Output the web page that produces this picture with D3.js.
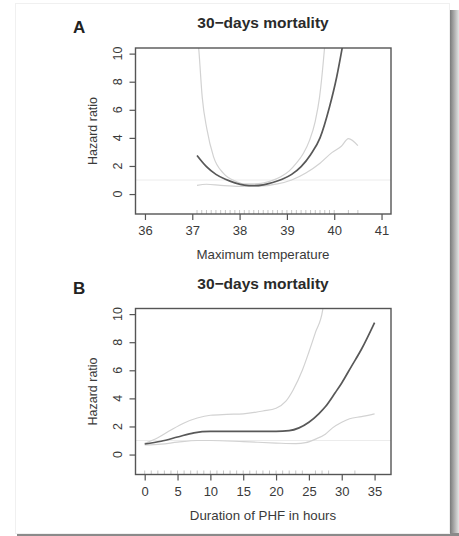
<!DOCTYPE html>
<html>
<head>
<meta charset="utf-8">
<script src="https://cdn.jsdelivr.net/npm/d3@7"></script>
<style>
  body { margin: 0; background: #fff; }
  svg { display: block; font-family: "Liberation Sans", Arial, sans-serif; }
</style>
</head>
<body>
<svg id="chart" width="459" height="536"></svg>
<script>
"use strict";

// panel A : maximum temperature
var tempTicks = [36, 37, 38, 39, 40, 41];
var tempFit = [[37.1, 2.75], [37.3, 1.95], [37.5, 1.4], [37.7, 1.05], [37.9, 0.8], [38.1, 0.64],
  [38.3, 0.6], [38.5, 0.66], [38.7, 0.82], [38.9, 1.05], [39.1, 1.4], [39.3, 1.95],
  [39.5, 2.8], [39.7, 4.0], [39.9, 6.2], [40.05, 8.3], [40.2, 11]];
var tempUpper = [[37.12, 11], [37.14, 10.2], [37.21, 6.9], [37.31, 4.6], [37.45, 2.65], [37.66, 1.47],
  [37.94, 0.88], [38.1, 0.72], [38.4, 0.74], [38.65, 0.92], [38.87, 1.23], [39.05, 1.65],
  [39.2, 2.2], [39.35, 2.9], [39.48, 3.84], [39.6, 5.2], [39.69, 6.9], [39.79, 10.2], [39.81, 11]];
var tempLower = [[37.1, 0.62], [37.3, 0.7], [37.6, 0.62], [38.0, 0.55], [38.4, 0.56], [38.8, 0.72],
  [39.1, 1.0], [39.4, 1.5], [39.7, 2.2], [39.95, 2.95], [40.15, 3.4], [40.3, 3.95], [40.5, 3.45]];
var tempRug = d3.range(371, 401).map(d => d / 10).concat([40.3, 40.5]);

// panel B : duration of PHF
var phfTicks = [0, 5, 10, 15, 20, 25, 30, 35];
var phfFit = [[0, 0.75], [2.5, 0.95], [5, 1.25], [7.5, 1.55], [10, 1.65], [15, 1.65], [20, 1.65],
  [22, 1.7], [23.5, 1.9], [25, 2.3], [26.5, 2.9], [27.5, 3.4], [29, 4.4], [30, 5.1],
  [31.5, 6.3], [33, 7.5], [35, 9.4]];
var phfUpper = [[0, 0.8], [2, 1.2], [4, 1.75], [6, 2.25], [8, 2.6], [10, 2.8], [12.5, 2.86],
  [15, 2.9], [18, 3.1], [20, 3.3], [21.5, 3.8], [22.6, 4.6], [24, 6.0], [25, 7.3],
  [26, 8.7], [27.1, 10.3], [27.3, 11]];
var phfLower = [[0, 0.68], [2.5, 0.74], [5, 0.88], [8, 1.0], [10, 1.0], [15, 0.92], [20, 0.82],
  [23, 0.78], [24.5, 0.85], [26, 1.1], [27.5, 1.45], [28.6, 1.9], [30, 2.3], [31.2, 2.55],
  [33, 2.7], [35, 2.9]];
var phfRug = d3.range(0, 25).concat([26, 27, 28, 32]);

var hrTicks = [0, 2, 4, 6, 8, 10];

var svg = d3.select("#chart");

// card with shadow
var defs = svg.append("defs");
var grad = defs.append("linearGradient").attr("id", "shadowR");
grad.append("stop").attr("offset", "0%").attr("stop-color", "#7a7a7a");
grad.append("stop").attr("offset", "100%").attr("stop-color", "#e4e4e4");
svg.append("rect").attr("x", 450).attr("y", 10).attr("width", 9).attr("height", 526)
  .attr("fill", "url(#shadowR)");
svg.append("rect").attr("x", 17).attr("y", 533).attr("width", 442).attr("height", 3)
  .attr("fill", "#8a8a8a");
svg.append("rect").attr("x", 15.5).attr("y", 3.5).attr("width", 434).attr("height", 530)
  .attr("fill", "#fff").attr("stroke", "#f0f0f0");

var drawPanel = function(p) {
  var x = d3.scaleLinear().domain(p.xDomain).range([135.5, 391]);
  var y = d3.scaleLinear().domain([-1.42, 10.4]).range([p.top + 166, p.top]);
  var g = svg.append("g");

  g.append("clipPath").attr("id", "clip" + p.id)
    .append("rect").attr("x", 135.5).attr("y", p.top).attr("width", 255.5).attr("height", 166);

  // letter + title
  g.append("text").attr("x", 73).attr("y", p.top - 15)
    .style("font-size", "17px").style("font-weight", "bold").attr("fill", "#222").text(p.id);
  g.append("text").attr("x", 263).attr("y", p.top - 20).attr("text-anchor", "middle")
    .style("font-size", "15.5px").style("font-weight", "bold").attr("fill", "#2a2a2a")
    .text("30\u2212days mortality");

  // axes
  g.append("g").attr("transform", `translate(0,${p.top + 166})`)
    .call(d3.axisBottom(x).tickValues(p.xTicks).tickFormat(d3.format("d")).tickSize(6).tickPadding(6))
    .call(a => a.select(".domain").remove())
    .call(a => a.selectAll("line").attr("stroke", "#555").attr("stroke-width", 1.2))
    .call(a => a.selectAll("text").style("font-size", "13px").attr("fill", "#3a3a3a")
      .style("font-family", "Liberation Sans, Arial, sans-serif"));

  g.append("g").attr("transform", "translate(135.5,0)")
    .call(d3.axisLeft(y).tickValues(hrTicks).tickSize(6).tickFormat(""))
    .call(a => a.select(".domain").remove())
    .call(a => a.selectAll("line").attr("stroke", "#555").attr("stroke-width", 1.2));
  g.selectAll(".ylab").data(hrTicks).enter().append("text")
    .attr("transform", d => `translate(122,${y(d)}) rotate(-90)`)
    .attr("text-anchor", "middle").style("font-size", "12.5px").attr("fill", "#3a3a3a")
    .text(d => d);

  g.append("text").attr("x", 263).attr("y", p.top + 211).attr("text-anchor", "middle")
    .style("font-size", "13.3px").attr("fill", "#3a3a3a").text(p.xLabel);
  g.append("text").attr("transform", `translate(97,${p.top + 83}) rotate(-90)`)
    .attr("text-anchor", "middle").style("font-size", "12.5px").attr("fill", "#3a3a3a")
    .text("Hazard ratio");

  var plot = g.append("g").attr("clip-path", `url(#clip${p.id})`);

  // reference line at HR = 1
  plot.append("line").attr("x1", 135.5).attr("x2", 391).attr("y1", y(1)).attr("y2", y(1))
    .attr("stroke", "#ececec").attr("stroke-width", 1);

  // rug
  plot.selectAll(".rug").data(p.rug).enter().append("line")
    .attr("x1", d => x(d)).attr("x2", d => x(d))
    .attr("y1", p.top + 166).attr("y2", p.top + 162)
    .attr("stroke", "#b8b8b8").attr("stroke-width", 0.8);

  var line = d3.line().x(d => x(d[0])).y(d => y(d[1])).curve(d3.curveMonotoneX);
  [p.upper, p.lower].forEach(function(s) {
    plot.append("path").attr("d", line(s)).attr("fill", "none")
      .attr("stroke", "#d2d2d2").attr("stroke-width", 1.2);
  });
  plot.append("path").attr("d", line(p.fit)).attr("fill", "none")
    .attr("stroke", "#585858").attr("stroke-width", 1.7);

  // frame
  g.append("rect").attr("x", 135.5).attr("y", p.top).attr("width", 255.5).attr("height", 166)
    .attr("fill", "none").attr("stroke", "#555").attr("stroke-width", 1.4);
};

drawPanel({ id: "A", top: 48, xDomain: [35.8, 41.2], xTicks: tempTicks,
  xLabel: "Maximum temperature", fit: tempFit, upper: tempUpper, lower: tempLower, rug: tempRug });
drawPanel({ id: "B", top: 308.5, xDomain: [-1.4, 37.5], xTicks: phfTicks,
  xLabel: "Duration of PHF in hours", fit: phfFit, upper: phfUpper, lower: phfLower, rug: phfRug });
</script>
</body>
</html>
